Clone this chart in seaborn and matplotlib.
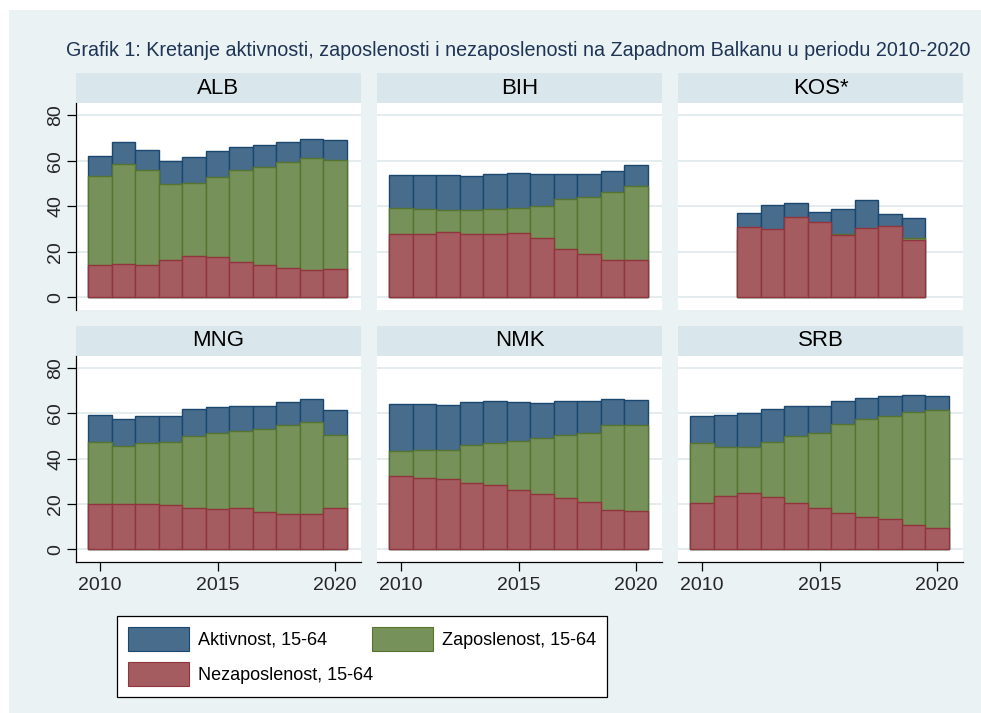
import numpy as np
import pandas as pd
import seaborn as sns
import matplotlib
matplotlib.use("Agg")
import matplotlib.pyplot as plt
from matplotlib.patches import Patch, Rectangle

# ---------------- data ----------------
years = list(range(2010, 2021))
years_kos = list(range(2012, 2020))

countries = ["ALB", "BIH", "KOS*", "MNG", "NMK", "SRB"]
series_names = ["Aktivnost, 15-64", "Zaposlenost, 15-64", "Nezaposlenost, 15-64"]

alb_akt = [62.3, 68.4, 64.9, 59.8, 61.5, 64.2, 66.2, 66.8, 68.4, 69.6, 69.3]
alb_zap = [53.5, 58.6, 56.0, 50.0, 50.4, 52.7, 56.0, 57.3, 59.5, 61.2, 60.5]
alb_nez = [14.4, 14.7, 14.1, 16.4, 18.2, 17.7, 15.5, 14.4, 12.9, 12.2, 12.5]

bih_akt = [53.8, 53.8, 53.8, 53.3, 54.2, 54.7, 54.2, 54.4, 54.2, 55.5, 58.0]
bih_zap = [39.1, 38.8, 38.5, 38.4, 38.8, 39.4, 40.1, 43.1, 44.1, 46.4, 48.9]
bih_nez = [28.0, 28.0, 28.6, 28.0, 28.0, 28.3, 25.9, 21.2, 19.0, 16.4, 16.4]

kos_akt = [36.9, 40.4, 41.6, 37.7, 38.8, 42.8, 36.5, 34.7]
kos_zap = [25.5, 28.4, 26.9, 25.2, 27.9, 29.8, 28.8, 26.2]
kos_nez = [30.9, 30.0, 35.3, 33.1, 27.5, 30.6, 31.5, 25.3]

mng_akt = [59.4, 57.5, 58.8, 59.1, 61.8, 62.8, 63.5, 63.5, 65.0, 66.2, 61.5]
mng_zap = [47.6, 45.7, 47.1, 47.4, 50.1, 51.2, 52.1, 53.2, 54.7, 56.2, 50.3]
mng_nez = [19.9, 19.9, 19.9, 19.6, 18.4, 17.6, 18.1, 16.5, 15.7, 15.4, 18.2]

nmk_akt = [64.4, 64.4, 63.8, 65.0, 65.6, 65.0, 64.7, 65.6, 65.6, 66.6, 65.9]
nmk_zap = [43.4, 44.0, 44.0, 46.0, 46.9, 47.9, 49.3, 50.6, 51.6, 54.7, 54.7]
nmk_nez = [32.4, 31.5, 31.2, 29.1, 28.2, 26.3, 24.3, 22.5, 20.9, 17.5, 16.8]

srb_akt = [59.1, 59.4, 60.1, 61.8, 63.1, 63.5, 65.7, 66.8, 67.8, 68.1, 67.8]
srb_zap = [47.1, 45.4, 45.3, 47.6, 50.1, 51.5, 55.3, 57.5, 58.7, 60.6, 61.5]
srb_nez = [20.3, 23.7, 24.7, 23.1, 20.3, 18.4, 16.0, 14.1, 13.2, 10.9, 9.6]

x_ticks = [2010, 2015, 2020]
y_ticks = [0, 20, 40, 60, 80]

title = ("Grafik 1: Kretanje aktivnosti, zaposlenosti i nezaposlenosti "
         "na Zapadnom Balkanu u periodu 2010-2020")

# build long table
rows = []
panel_data = {
    "ALB": (years, alb_akt, alb_zap, alb_nez),
    "BIH": (years, bih_akt, bih_zap, bih_nez),
    "KOS*": (years_kos, kos_akt, kos_zap, kos_nez),
    "MNG": (years, mng_akt, mng_zap, mng_nez),
    "NMK": (years, nmk_akt, nmk_zap, nmk_nez),
    "SRB": (years, srb_akt, srb_zap, srb_nez),
}
for c, (yrs, a, z, n) in panel_data.items():
    for s, vals in zip(series_names, (a, z, n)):
        for yr, v in zip(yrs, vals):
            rows.append({"country": c, "series": s, "year": yr, "value": v})
df = pd.DataFrame(rows)

# ---------------- style ----------------
sns.set_theme(style="white")
plt.rcParams["font.family"] = ["Liberation Sans", "DejaVu Sans"]

BG = "#eaf2f3"
STRIP = "#d9e6eb"
GRID = "#e3ebee"
fills = {"Aktivnost, 15-64": "#486c8c",
         "Zaposlenost, 15-64": "#77915a",
         "Nezaposlenost, 15-64": "#a55c61"}
edges = {"Aktivnost, 15-64": "#1a476f",
         "Zaposlenost, 15-64": "#55752f",
         "Nezaposlenost, 15-64": "#90353b"}

W, H = 981, 713
fig = plt.figure(figsize=(W / 100, H / 100), dpi=100, facecolor="white")
fig.patches.append(Rectangle((9 / W, 0), 1 - 9 / W, 1 - 10 / H,
                             transform=fig.transFigure, facecolor=BG,
                             edgecolor="none", zorder=-5))


def fr(x0, y0, x1, y1):
    return [x0 / W, 1 - y1 / H, (x1 - x0) / W, (y1 - y0) / H]


col_x = [(76, 361), (377, 662), (678, 963)]
row_y = [(103, 310), (356, 562)]
strip_y = [(73, 103), (326, 356)]

for i, c in enumerate(countries):
    r, k = divmod(i, 3)
    x0, x1 = col_x[k]
    y0, y1 = row_y[r]
    s0, s1 = strip_y[r]
    # strip
    fig.patches.append(Rectangle((x0 / W, 1 - s1 / H), (x1 - x0) / W, (s1 - s0) / H,
                                 transform=fig.transFigure, facecolor=STRIP,
                                 edgecolor="none", zorder=-4))
    fig.text((x0 + x1) / 2 / W, 1 - (s0 + s1) / 2 / H, c, ha="center", va="center",
             fontsize=16, color="black")

    ax = fig.add_axes(fr(x0, y0, x1, y1))
    ax.set_zorder(3)
    ax.set_facecolor("white")
    for yv in y_ticks:
        ax.axhline(yv, color=GRID, lw=1.3, zorder=0)
    sub = df[df["country"] == c]
    for s in series_names:
        sns.barplot(data=sub[sub["series"] == s], x="year", y="value",
                    native_scale=True, width=1, color=fills[s], saturation=1,
                    edgecolor=edges[s], linewidth=1.0, errorbar=None, ax=ax,
                    zorder=2)
    ax.set_xlim(2008.98, 2021.1)
    ax.set_ylim(-5.6, 85.4)
    ax.set_xlabel("")
    ax.set_ylabel("")
    for sp in ax.spines.values():
        sp.set_visible(False)
    if k == 0:
        ax.spines["left"].set_visible(True)
        ax.spines["left"].set_color("black")
        ax.spines["left"].set_linewidth(0.9)
        ax.set_yticks(y_ticks)
        ax.set_yticklabels([str(v) for v in y_ticks], rotation=90, va="center",
                           fontsize=14)
        ax.tick_params(axis="y", left=True, length=6.5, width=0.9, pad=2,
                       color="black")
    else:
        ax.set_yticks([])
    if r == 1:
        ax.spines["bottom"].set_visible(True)
        ax.spines["bottom"].set_color("black")
        ax.spines["bottom"].set_linewidth(0.9)
        ax.set_xticks(x_ticks)
        ax.set_xticklabels([str(v) for v in x_ticks], fontsize=14)
        ax.tick_params(axis="x", bottom=True, length=6.5, width=0.9, pad=4,
                       color="black")
    else:
        ax.set_xticks([])

# title
fig.text(970 / W, 1 - 50 / H, title, ha="right", va="center", fontsize=14.2,
         color="#1f3556")

# legend
handles = [Patch(facecolor=fills[s], edgecolor=edges[s], linewidth=0.8)
           for s in ["Aktivnost, 15-64", "Nezaposlenost, 15-64", "Zaposlenost, 15-64"]]
labels = ["Aktivnost, 15-64", "Nezaposlenost, 15-64", "Zaposlenost, 15-64"]
leg = fig.legend(handles, labels, loc="upper left",
                 bbox_to_anchor=(117 / W, 1 - 698 / H, 490 / W, 82 / H),
                 mode="expand", ncol=2, frameon=True, fancybox=False,
                 edgecolor="black", facecolor="white", framealpha=1,
                 fontsize=13, labelcolor="black",
                 handlelength=3.4, handleheight=1.7, handletextpad=0.5,
                 labelspacing=0.6, borderpad=0.6, borderaxespad=0,
                 columnspacing=2.0)
leg.get_frame().set_linewidth(0.9)

fig.savefig("out.png", dpi=100, facecolor=fig.get_facecolor())
